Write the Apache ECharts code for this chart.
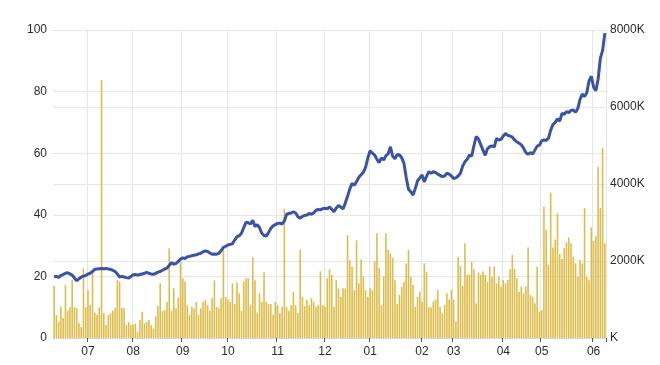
<!DOCTYPE html>
<html><head><meta charset="utf-8">
<script src="https://cdn.jsdelivr.net/npm/echarts@6/dist/echarts.min.js"></script>
<style>html,body{margin:0;padding:0;background:#fff}#c{width:660px;height:365px}</style>
</head><body><div id="c"></div>
<script>
// Month tick labels and the trading-day index where each month starts
const monthLabels = ['07','08','09','10','11','12','01','02','03','04','05','06'];
const monthStartIndex = [15, 35, 57, 77, 99, 120, 140, 163, 177, 199, 216, 239];

// Daily closing price (left axis)
const price = [
  19.8, 20.0, 19.7, 20.3, 20.6, 21.0, 21.2, 20.8, 20.4, 19.5,
  18.6, 19.2, 19.8, 20.1, 20.3, 20.8, 21.0, 21.6, 22.3, 22.4,
  22.5, 22.6, 22.5, 22.6, 22.4, 22.3, 22.0, 21.6, 20.8, 19.8,
  20.0, 19.8, 19.6, 19.5, 20.0, 20.5, 20.6, 20.4, 20.6, 20.8,
  21.0, 21.3, 21.0, 20.8, 20.7, 21.0, 21.4, 21.6, 22.0, 22.4,
  22.7, 23.6, 24.4, 24.0, 24.2, 24.9, 25.6, 26.0, 25.8, 26.4,
  26.5, 26.7, 26.9, 27.0, 27.3, 27.5, 28.0, 28.3, 28.1, 27.6,
  27.2, 27.3, 27.2, 27.5, 28.4, 29.4, 29.8, 30.2, 30.4, 30.6,
  31.8, 32.9, 33.2, 34.0, 35.8, 37.6, 37.4, 37.0, 38.2, 36.2,
  36.8, 35.8, 34.0, 33.3, 33.1, 34.2, 35.6, 36.4, 36.8, 37.2,
  37.3, 37.0, 38.0, 40.2, 40.4, 40.6, 41.0, 40.6, 39.4, 38.9,
  39.5, 39.8, 39.9, 40.4, 40.2, 40.6, 41.5, 41.7, 41.6, 42.0,
  42.1, 42.0, 42.5, 41.8, 41.0, 42.2, 43.0, 42.5, 41.9, 43.8,
  46.0, 48.4, 50.2, 49.6, 50.8, 52.2, 53.0, 53.8, 55.5, 58.5,
  60.8, 60.0, 59.4, 58.0, 56.9, 58.5, 57.8, 59.2, 59.8, 62.1,
  59.0, 58.2, 59.6, 59.4, 58.5, 56.7, 52.0, 48.3, 47.5, 46.4,
  48.5, 51.0, 52.0, 52.9, 50.7, 52.5, 54.0, 53.5, 54.0, 53.7,
  53.2, 52.8, 52.4, 52.6, 53.5, 53.2, 52.6, 51.8, 52.0, 52.6,
  53.5, 55.8, 57.2, 58.0, 59.4, 59.0, 62.5, 65.4, 64.6, 62.8,
  61.0, 59.3, 61.5, 62.1, 62.4, 62.0, 64.8, 64.3, 64.5, 65.6,
  66.4, 65.8, 65.6, 65.2, 64.3, 63.7, 63.2, 62.7, 61.6, 60.2,
  59.6, 60.2, 59.7, 61.0, 62.3, 62.6, 64.0, 64.3, 64.2, 64.8,
  67.5, 69.3, 70.0, 71.2, 70.4, 72.9, 72.6, 73.5, 73.2, 73.9,
  74.0, 73.3, 74.5, 77.5, 79.2, 78.4, 79.6, 83.5, 85.0, 81.5,
  80.3, 84.0, 90.8, 93.4, 99.0
];

// Daily volume in thousands (right axis)
const volumeK = [
  1350, 600, 420, 810, 520, 1375, 710, 800, 1510, 800,
  780, 390, 290, 1810, 800, 1250, 860, 1720, 660, 600,
  800, 6700, 650, 340, 600, 640, 710, 780, 1500, 1470,
  780, 770, 340, 420, 340, 350, 380, 170, 470, 680,
  380, 420, 470, 340, 250, 560, 830, 1420, 700, 720,
  940, 2330, 700, 1290, 770, 1050, 1980, 1550, 1470, 850,
  600, 810, 770, 940, 600, 770, 940, 980, 850, 710,
  1030, 1500, 810, 770, 1030, 2290, 1070, 1000, 940, 1420,
  880, 1440, 1160, 710, 1470, 1550, 1550, 850, 2100, 1500,
  650, 1160, 940, 1710, 940, 880, 880, 600, 940, 850,
  640, 810, 3350, 810, 710, 850, 1200, 850, 640, 2290,
  1070, 830, 1000, 850, 1030, 940, 810, 850, 1730, 850,
  810, 1550, 1780, 1640, 810, 1500, 1290, 1070, 1290, 1290,
  2670, 2020, 1850, 1240, 2540, 1420, 2040, 1600, 1240, 1070,
  1290, 1240, 1990, 2720, 1810, 850, 1600, 2720, 2290, 2200,
  2080, 1500, 880, 1120, 1330, 1460, 1940, 2290, 1590, 1380,
  810, 1070, 1200, 940, 1940, 1720, 800, 800, 950, 1000,
  1250, 800, 640, 860, 1160, 1000, 1250, 1000, 420, 2110,
  1870, 1350, 2460, 1640, 1640, 1980, 1780, 900, 1700, 1640,
  1730, 1640, 1460, 1860, 1590, 1860, 1420, 1590, 1340, 1510,
  1420, 1510, 1780, 2160, 1800, 1550, 1200, 1340, 1160, 1340,
  2350, 1120, 1070, 900, 1860, 680, 720, 3410, 2800, 1900,
  3770, 2350, 2560, 3240, 2180, 2050, 2340, 2490, 2610, 2460,
  2110, 1940, 1590, 2020, 1940, 3380, 1590, 1500, 2870, 2520,
  2640, 4450, 3380, 4930, 2460
];

const days = price.map((_, i) => 'd' + i);
const isMonthStart = (i) => monthStartIndex.indexOf(i) >= 0;

const chart = echarts.init(document.getElementById('c'), null, {renderer: 'canvas'});
const textStyle = {color: '#2b2b2b', fontSize: 12, fontFamily: 'Liberation Sans, Arial, sans-serif'};
chart.setOption({
  animation: false,
  grid: {left: 53, right: 54, top: 30, bottom: 27},
  xAxis: {
    type: 'category',
    data: days,
    boundaryGap: true,
    axisLine: {show: true, lineStyle: {color: '#d8d8d8'}},
    axisTick: {show: true, interval: (i) => isMonthStart(i), length: 4, lineStyle: {color: '#555'}},
    axisLabel: Object.assign({
      interval: (i) => isMonthStart(i),
      formatter: (v, i) => monthLabels[monthStartIndex.indexOf(i)] || ''
    }, textStyle),
    splitLine: {show: true, interval: (i) => isMonthStart(i), lineStyle: {color: '#e6e6e6', width: 1}}
  },
  yAxis: [
    {
      type: 'value', min: 0, max: 100, interval: 20, position: 'left',
      axisLine: {show: false}, axisTick: {show: false},
      axisLabel: Object.assign({margin: 6}, textStyle),
      splitLine: {show: true, lineStyle: {color: '#e6e6e6', width: 1}}
    },
    {
      type: 'value', min: 0, max: 8000, interval: 2000, position: 'right',
      axisLine: {show: false}, axisTick: {show: false},
      axisLabel: Object.assign({margin: 4, formatter: (v) => (v === 0 ? '' : v) + 'K'}, textStyle),
      splitLine: {show: true, lineStyle: {color: '#e6e6e6', width: 1}}
    }
  ],
  series: [
    {
      type: 'bar', yAxisIndex: 1, data: volumeK,
      barCategoryGap: '30%',
      itemStyle: {color: '#dcbc4a'},
      z: 1
    },
    {
      type: 'line', yAxisIndex: 0, data: price,
      showSymbol: false, symbol: 'none',
      lineStyle: {color: '#3a53a4', width: 3},
      z: 3
    }
  ]
});
</script>
</body></html>
